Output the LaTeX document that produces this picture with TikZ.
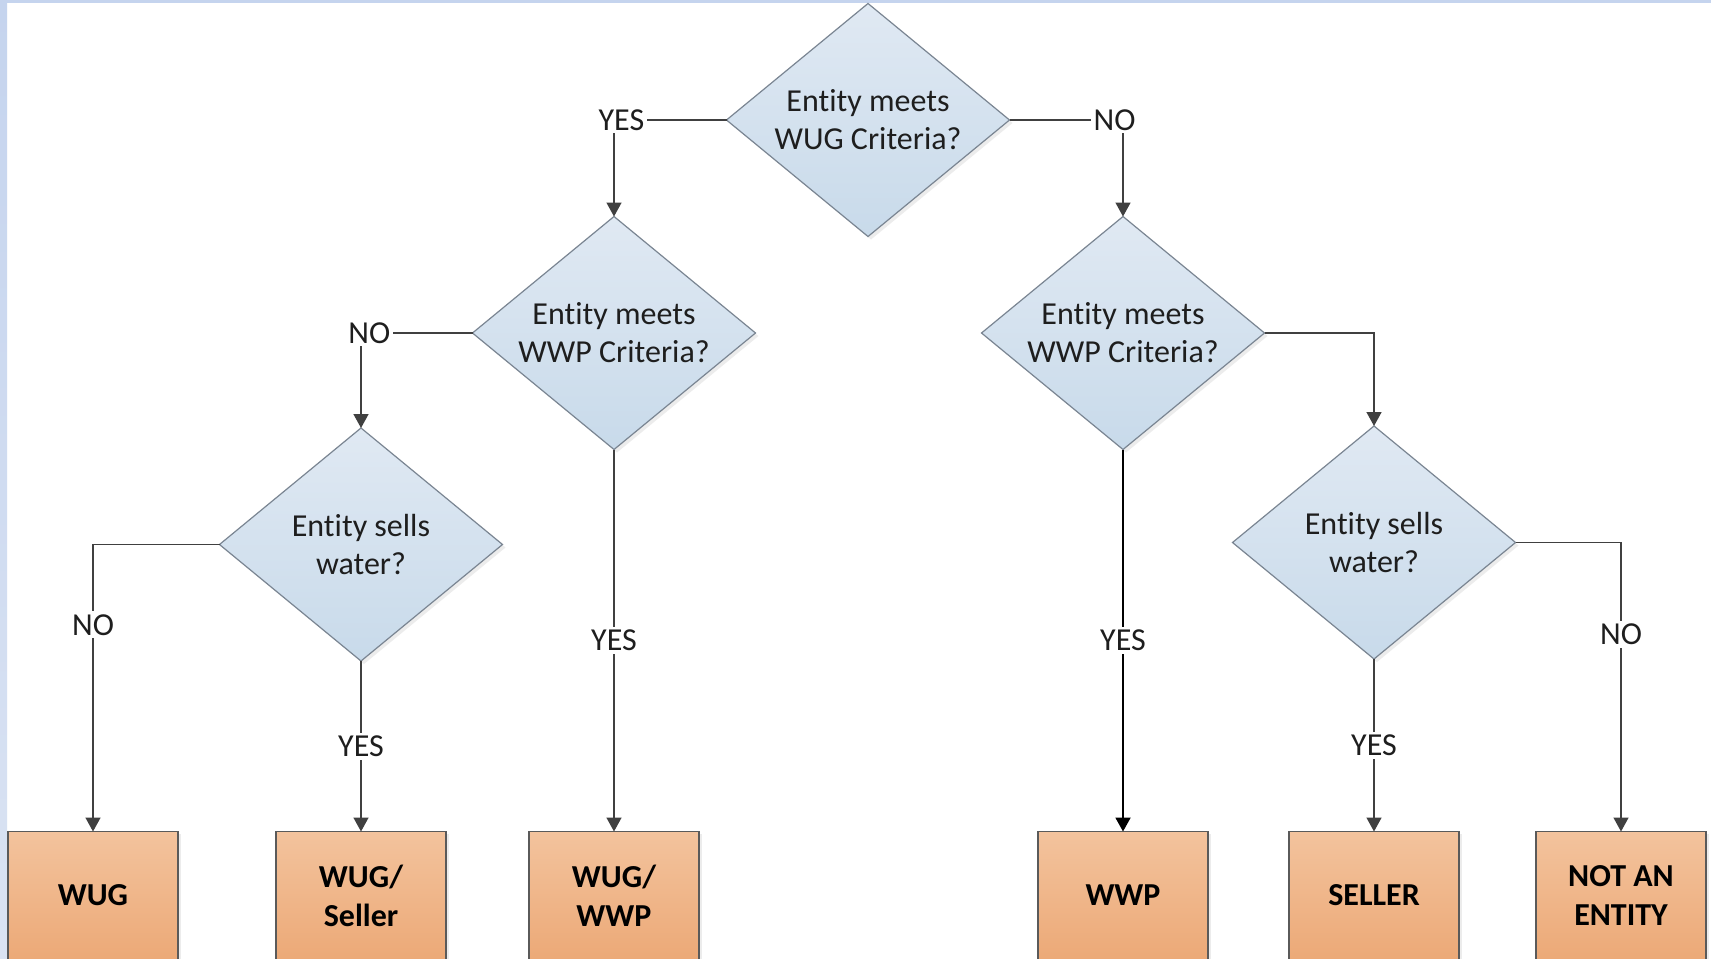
\documentclass[tikz,border=0pt]{standalone}
\usepackage{fontspec}
\setmainfont{Carlito}[Ligatures=NoCommon]
\usepackage{xcolor}
\usepackage{tikz}
\usetikzlibrary{shapes.geometric,arrows.meta,shadows}

\definecolor{diatop}{HTML}{E0E9F3}
\definecolor{diabot}{HTML}{C8DAEA}
\definecolor{diagray}{HTML}{7A8592}
\definecolor{boxtop}{HTML}{F3C39D}
\definecolor{boxbot}{HTML}{ECA977}
\definecolor{boxgray}{HTML}{5A5A5A}
\definecolor{edgegray}{HTML}{404040}
\definecolor{txt}{HTML}{1E1E1E}
\definecolor{stripblue}{HTML}{C5D4EE}
\definecolor{striplight}{HTML}{DAE3F3}

\begin{document}
\begin{tikzpicture}[
    x=0.5pt, y=-0.5pt,
    font=\fontsize{16pt}{19pt}\selectfont,
    decision/.style={diamond, draw=diagray, line width=0.6pt,
        top color=diatop, bottom color=diabot,
        minimum width=141.5pt, minimum height=116.5pt, shape aspect=1.21,
        inner sep=0pt, outer sep=0pt, align=center, text=txt,
        drop shadow={shadow xshift=1.5pt, shadow yshift=-1.5pt, opacity=0.15}},
    outcome/.style={rectangle, draw=boxgray, line width=0.7pt,
        top color=boxtop, bottom color=boxbot,
        minimum width=85pt, minimum height=64pt, anchor=north,
        outer sep=0pt, align=center, text=black,
        font=\fontsize{16pt}{19.5pt}\selectfont\bfseries,
        drop shadow={shadow xshift=1.5pt, shadow yshift=-1pt, opacity=0.15}},
    answer/.style={fill=white, inner sep=1.5pt, text=txt},
    link/.style={draw=edgegray, line width=0.75pt,
        -{Triangle[length=7pt,width=7.5pt]}}]

    \useasboundingbox (0,0) rectangle (1711,958);
    \clip (0,0) rectangle (1711,958);
    \fill[white] (0,0) rectangle (1711,958);
    \fill[stripblue] (0,0) rectangle (1711,3);
    \shade[top color=stripblue, bottom color=striplight] (0,0) rectangle (7,958);

    \node[decision] (wug) at (868,120) {Entity meets\\WUG Criteria?};
    \node[decision] (wwpL) at (614,333) {Entity meets\\WWP Criteria?};
    \node[decision] (wwpR) at (1123,333) {Entity meets\\WWP Criteria?};
    \node[decision] (sellL) at (361,544.5) {Entity sells\\water?};
    \node[decision] (sellR) at (1374,542.5) {Entity sells\\water?};

    \node[outcome] (wugbox) at (93,831.5) {WUG};
    \node[outcome] (wugseller) at (361,831.5) {WUG/\\Seller};
    \node[outcome] (wugwwp) at (614,831.5) {WUG/\\WWP};
    \node[outcome] (wwpbox) at (1123,831.5) {WWP};
    \node[outcome] (sellerbox) at (1374,831.5) {SELLER};
    \node[outcome] (notentity) at (1621,831.5) {NOT AN\\ENTITY};

    \draw[link] (wug.west) -| node[answer, pos=0.467] {YES} (wwpL.north);
    \draw[link] (wug.east) -| node[answer, pos=0.463] {NO} (wwpR.north);
    \draw[link] (wwpL.west) -| node[answer, pos=0.463] {NO} (sellL.north);
    \draw[link] (wwpL.south) -- node[answer] {YES} (wugwwp.north);
    \draw[link] (wwpR.east) -| (sellR.north);
    \draw[link, draw=black, line width=1pt] (wwpR.south) -- node[answer] {YES} (wwpbox.north);
    \draw[link] (sellL.west) -| node[answer, pos=0.640] {NO} (wugbox.north);
    \draw[link] (sellL.south) -- node[answer] {YES} (wugseller.north);
    \draw[link] (sellR.south) -- node[answer] {YES} (sellerbox.north);
    \draw[link] (sellR.east) -| node[answer, pos=0.659] {NO} (notentity.north);
\end{tikzpicture}
\end{document}
